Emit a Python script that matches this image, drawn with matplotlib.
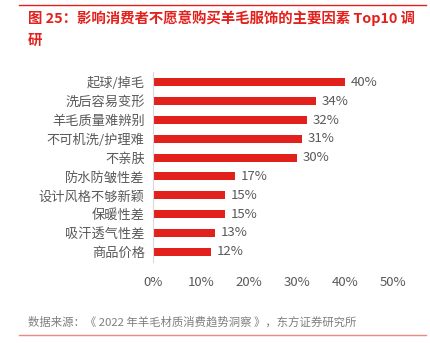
import matplotlib
matplotlib.use("Agg")
from matplotlib import pyplot as plt
from matplotlib.lines import Line2D

plt.rcParams['font.family'] = ['Noto Sans CJK SC', 'DejaVu Sans']

categories = ['起球/掉毛', '洗后容易变形', '羊毛质量难辨别', '不可机洗/护理难', '不亲肤',
              '防水防皱性差', '设计风格不够新颖', '保暖性差', '吸汗透气性差', '商品价格']
values = [40, 34, 32, 31, 30, 17, 15, 15, 13, 12]
ticks = [0, 10, 20, 30, 40, 50]

RED = '#E2201C'
GRAY = '#595959'

fig = plt.figure(figsize=(4.3, 3.43), dpi=100)
ax = fig.add_axes([0.356, 0.236, 0.558, 0.554])

pos = list(range(len(categories)))
ax.barh(pos, values, height=0.42, color=RED)
for y, v in zip(pos, values):
    ax.text(v + 1.2, y, f'{v}%', va='center', ha='left', fontsize=9.5, color=GRAY)

ax.set_yticks(pos)
ax.set_yticklabels(categories, fontsize=9.5, color=GRAY)
ax.set_ylim(9.55, -0.55)
ax.set_xlim(0, 50)
ax.set_xticks(ticks)
ax.set_xticklabels([f'{t}%' for t in ticks], fontsize=9.5, color=GRAY)
ax.tick_params(length=0, pad=6)
ax.tick_params(axis='x', pad=10)
for s in ['top', 'right', 'bottom']:
    ax.spines[s].set_visible(False)
ax.spines['left'].set_color('#D9D9D9')

# header and footer
fig.add_artist(Line2D([0.045, 0.99], [0.985, 0.985], color=RED, lw=1))
fig.text(0.065, 0.948, '图 25：影响消费者不愿意购买羊毛服饰的主要因素 Top10 调',
         fontsize=10.4, color=RED, fontweight='bold', va='center')
fig.text(0.065, 0.88, '研', fontsize=10.4, color=RED, fontweight='bold', va='center')
fig.text(0.065, 0.062, '数据来源：《 2022 年羊毛材质消费趋势洞察 》，东方证券研究所',
         fontsize=8.2, color='#7F7F7F', va='center')
fig.add_artist(Line2D([0.045, 0.99], [0.022, 0.022], color='#E88A86', lw=1))

plt.savefig('out.png', dpi=100)
